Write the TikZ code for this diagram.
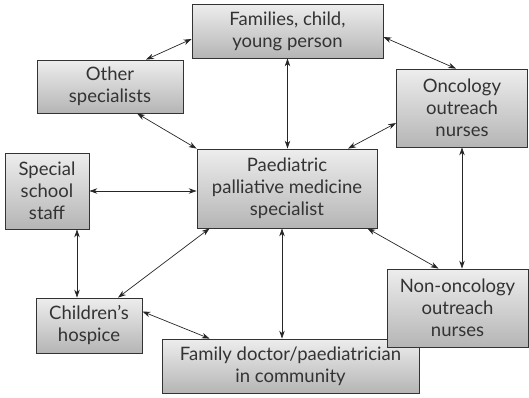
\documentclass[tikz,border=0pt]{standalone}
\usepackage{fontspec}
\setmainfont{Lato}
\usetikzlibrary{arrows.meta}
\tikzset{
    role/.style={draw=black!80, line width=0.8pt, top color=black!7, bottom color=black!29,
        text=black!80, align=center, inner sep=0pt, font=\fontsize{18.5}{22}\selectfont},
    link/.style={{Stealth[length=8pt,width=5.5pt]}-{Stealth[length=8pt,width=5.5pt]}, line width=0.7pt, black!85}
}
\begin{document}
\begin{tikzpicture}[x=1pt,y=-1pt]
            \useasboundingbox (0,0) rectangle (529,397);
            \node[role, minimum width=191pt, minimum height=54pt] (family) at (287.5,31) {Families, child,\\young person};
            \node[role, minimum width=146pt, minimum height=53pt] (other) at (110,86.5) {Other\\specialists};
            \node[role, minimum width=131pt, minimum height=78pt] (onco) at (462,108) {Oncology\\outreach\\nurses};
            \node[role, minimum width=180pt, minimum height=79pt] (ppm) at (287,188.5) {Paediatric\\palliative medicine\\specialist};
            \node[role, minimum width=84pt, minimum height=76pt] (school) at (47,191) {Special\\school\\staff};
            \node[role, minimum width=106pt, minimum height=55pt] (hospice) at (89,325.5) {Children's\\hospice};
            \node[role, minimum width=257pt, minimum height=54pt] (gp) at (290.5,366) {Family doctor/paediatrician\\in community};
            \node[role, minimum width=141pt, minimum height=78pt] (nononco) at (457.5,308) {Non-oncology\\outreach\\nurses};
            \draw[link] ([yshift=-8pt]family.west) -- ([xshift=36pt]other.north);
            \draw[link] ([yshift=-6pt]family.east) -- ([xshift=-6pt]onco.north);
            \draw[link] (family.south) -- (family.south |- ppm.north);
            \draw[link] ([xshift=27pt]other.south) -- (ppm.north west);
            \draw[link] ([xshift=61pt]ppm.north) -- ([yshift=-15pt]onco.west);
            \draw[link] (school.east) -- (school.east -| ppm.west);
            \draw[link] ([xshift=30pt]school.south) -- ([xshift=30pt]school.south |- hospice.north);
            \draw[link] ([xshift=13pt]ppm.south west) -- ([xshift=29pt]hospice.north);
            \draw[link] ([yshift=14pt]hospice.east) -- ([xshift=48pt]gp.north west);
            \draw[link] ([xshift=-5pt]ppm.south) -- ([xshift=-5pt]ppm.south |- gp.north);
            \draw[link] ([xshift=-10pt]ppm.south east) -- ([xshift=-19pt]nononco.north);
            \draw[link] (onco.south) -- (onco.south |- nononco.north);
        \end{tikzpicture}
\end{document}
